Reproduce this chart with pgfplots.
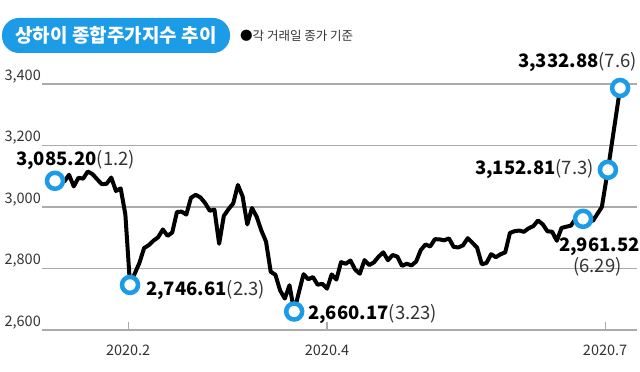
\documentclass[border=0pt]{standalone}
\usepackage{pgfplots}
\pgfplotsset{compat=1.18}
\usepackage{fontspec}
\setmainfont{Noto Sans CJK KR}
\definecolor{pill}{HTML}{1C9BE6}
\definecolor{gridc}{HTML}{ABABAB}
\definecolor{txt}{HTML}{333333}
\begin{document}
\begin{tikzpicture}
\useasboundingbox (-42pt,-42pt) rectangle (598pt,330pt);
\begin{axis}[
  at={(0,0)}, anchor=south west,
  scale only axis, width=595pt, height=246pt,
  xmin=-2.77, xmax=124.1, ymin=2600, ymax=3400,
  clip=false,
  axis x line*=bottom, axis y line*=left,
  axis line style={draw=none,-},
  ymajorgrids, grid style={gridc, line width=1.3pt},
  ytick={2600,2800,3000,3200,3400},
  yticklabels={{2,600},{2,800},{3,000},{3,200},{3,400}},
  ytick style={draw=none},
  yticklabel style={anchor=base east, inner sep=0pt, xshift=-1pt, yshift=4pt, font=\fontsize{14.5}{15}\selectfont, text=txt},
  xtick={15.6,58,117.3},
  xticklabels={2020.2,2020.4,2020.7},
  tick align=inside, major tick length=8pt,
  xtick style={gridc, line width=1.2pt},
  xticklabel style={anchor=base, inner sep=0pt, yshift=-25pt, font=\fontsize{14.5}{15}\selectfont, text=txt},
]
\addplot[black, line width=4pt, line join=round, no marks] coordinates {
(0,3085.20) (1,3083.79) (2,3083.41) (3,3104.80) (4,3066.89) (5,3094.88) (6,3092.29) (7,3115.57) (8,3106.82) (9,3090.04)
(10,3074.08) (11,3075.50) (12,3095.79) (13,3052.14) (14,3060.75) (15,2976.53) (16,2746.61) (17,2783.29) (18,2818.09) (19,2866.51)
(20,2875.96) (21,2890.49) (22,2901.67) (23,2926.90) (24,2906.07) (25,2917.01) (26,2983.62) (27,2984.97) (28,2975.40) (29,3030.15)
(30,3039.67) (31,3031.23) (32,3013.05) (33,2987.93) (34,2991.33) (35,2880.30) (36,2970.93) (37,2992.90) (38,3011.67) (39,3071.68)
(40,3034.51) (41,2943.29) (42,2996.76) (43,2968.52) (44,2923.49) (45,2887.43) (46,2789.25) (47,2779.64) (48,2728.76) (49,2702.13)
(50,2745.62) (51,2660.17) (52,2722.44) (53,2781.59) (54,2764.91) (55,2772.20) (56,2747.21) (57,2750.30) (58,2734.52) (59,2780.64)
(60,2763.99) (61,2820.76) (62,2815.37) (63,2825.90) (64,2796.63) (65,2783.05) (66,2827.28) (67,2811.17) (68,2819.94) (69,2838.49)
(70,2852.55) (71,2827.01) (72,2843.98) (73,2838.50) (74,2808.53) (75,2815.49) (76,2810.02) (77,2822.44) (78,2860.08) (79,2878.14)
(80,2871.52) (81,2895.34) (82,2894.80) (83,2891.56) (84,2898.05) (85,2870.34) (86,2868.46) (87,2875.42) (88,2898.58) (89,2883.74)
(90,2867.92) (91,2813.77) (92,2817.97) (93,2846.55) (94,2836.80) (95,2846.22) (96,2852.35) (97,2915.43) (98,2921.40) (99,2923.37)
(100,2919.25) (101,2930.80) (102,2937.77) (103,2956.11) (104,2943.75) (105,2920.90) (106,2919.74) (107,2890.03) (108,2931.75) (109,2935.87)
(110,2939.32) (111,2962.00) (112.6,2961.52) (114.7,2955) (116.6,3000) (117.9,3121) (120.5,3387)
};
\addplot[only marks, mark=*, mark size=8pt, mark options={draw=pill, fill=white, line width=4.5pt}] coordinates {
(0,3085.20) (16,2746.61) (51,2660.17) (112.6,2961.52) (117.9,3121) (120.5,3387)
};
\end{axis}
% title pill and legend note
\node[fill=pill, rounded corners=17pt, minimum width=228pt, minimum height=35pt, inner sep=0pt, text=white,
      font=\fontsize{19}{20}\bfseries] at (74pt,294.5pt) {상하이 종합주가지수 추이};
\node[anchor=west, inner sep=0pt, text=txt, font=\fontsize{12.5}{13}\selectfont] at (198pt,294pt) {\textcolor{black}{●}각 거래일 종가 기준};
% annotations
\node[anchor=west, inner sep=0pt, font=\fontsize{18.5}{20}\selectfont] at (-26pt,170pt) {\textbf{3,085.20}\textcolor{txt}{(1.2)}};
\node[anchor=west, inner sep=0pt, font=\fontsize{18.5}{20}\selectfont] at (104pt,40pt) {\textbf{2,746.61}\textcolor{txt}{(2.3)}};
\node[anchor=west, inner sep=0pt, font=\fontsize{18.5}{20}\selectfont] at (266pt,16pt) {\textbf{2,660.17}\textcolor{txt}{(3.23)}};
\node[anchor=east, inner sep=0pt, font=\fontsize{18.5}{20}\selectfont] at (595pt,268pt) {\textbf{3,332.88}\textcolor{txt}{(7.6)}};
\node[anchor=east, inner sep=0pt, font=\fontsize{18.5}{20}\selectfont] at (552pt,161pt) {\textbf{3,152.81}\textcolor{txt}{(7.3)}};
\node[anchor=west, inner sep=0pt, font=\fontsize{18.5}{20}\selectfont] at (517pt,83pt) {\textbf{2,961.52}};
\node[inner sep=0pt, text=txt, font=\fontsize{18.5}{20}\selectfont] at (555.5pt,63pt) {(6.29)};
\end{tikzpicture}
\end{document}
